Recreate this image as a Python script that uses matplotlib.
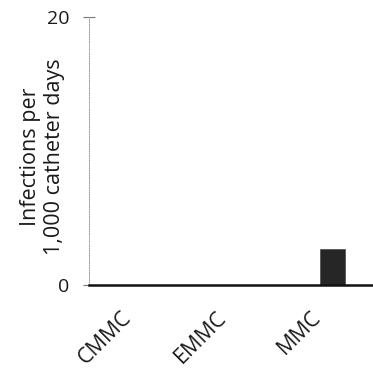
import matplotlib
matplotlib.use("Agg")
import matplotlib.pyplot as plt
from matplotlib.transforms import ScaledTranslation

categories = ["CMMC", "EMMC", "MMC"]
rates = [0.0, 0.0, 2.7]
y_ticks = [0, 20]
y_label = "Infections per\n1,000 catheter days"

plt.rcParams["font.family"] = ["Open Sans", "DejaVu Sans"]

fig = plt.figure(figsize=(3.73, 3.73), dpi=100)
ax = fig.add_axes([0.2386, 0.2359, 0.7614, 0.7185])

x = list(range(len(categories)))
bar_shift = 0.07
ax.bar([v + bar_shift for v in x], rates, width=0.26, color="#262626",
       edgecolor="#4a4a4a", linewidth=0.5, zorder=2)

ax.set_xlim(-0.5, 2.5)
ax.set_ylim(0, 20)
ax.set_yticks(y_ticks)
ax.set_yticklabels([str(t) for t in y_ticks], fontsize=14, color="#1a1a1a")
ax.set_xticks(x)
ax.set_xticklabels(categories, rotation=45, ha="right", rotation_mode="anchor",
                   fontsize=15.5, color="#1a1a1a")
ax.tick_params(axis="x", length=0, pad=16)
ax.tick_params(axis="y", length=8, width=0.8, color="#777777", direction="inout", pad=10)

# nudge the slanted category labels left so they sit under their ticks
shift = ScaledTranslation(-15 / 100, 0, fig.dpi_scale_trans)
for lab in ax.get_xticklabels():
    lab.set_transform(lab.get_transform() + shift)

for s in ["top", "right"]:
    ax.spines[s].set_visible(False)
ax.spines["left"].set_color("#9a9a9a")
ax.spines["left"].set_linewidth(0.7)
ax.spines["left"].set_linestyle((0, (1, 1.5)))
ax.spines["bottom"].set_color("#111111")
ax.spines["bottom"].set_linewidth(1.8)

ax.set_ylabel(y_label, fontsize=15.5, linespacing=1.2, color="#1a1a1a")
ax.yaxis.set_label_coords(-0.085, 0.48)

fig.savefig("out.png", dpi=100)
